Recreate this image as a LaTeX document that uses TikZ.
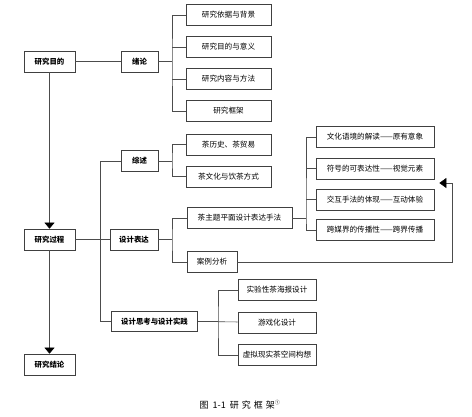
\documentclass[tikz,border=0pt]{standalone}
\usepackage{fontspec}
\setmainfont{Noto Sans CJK SC}
\usetikzlibrary{arrows.meta}

\begin{document}
\begin{tikzpicture}[x=1pt,y=-1pt]
    \tikzset{every node/.style={inner sep=0pt, font=\fontsize{7.6}{9}\selectfont},
        mainbox/.style={draw=black!75, line width=0.7pt, minimum height=21pt, font=\fontsize{7.4}{9}\selectfont\bfseries},
        leafbox/.style={draw=black!75, line width=0.7pt, minimum height=21pt},
        link/.style={draw=black!70, line width=0.6pt},
        down/.style={link, -{Triangle[width=10pt,length=6pt,color=black]}}}
    \useasboundingbox (0,0) rectangle (472,416);
    \node [mainbox, minimum width=51pt] (aim) at (49.5,61.5) {研究目的};
    \node [mainbox, minimum width=51pt] (proc) at (49.5,239.5) {研究过程};
    \node [mainbox, minimum width=51pt] (concl) at (49.5,364.5) {研究结论};
    \node [mainbox, minimum width=37pt] (xulun) at (139.5,61.5) {绪论};
    \node [mainbox, minimum width=37pt] (zongshu) at (139.5,161) {综述};
    \node [mainbox, minimum width=48pt] (biaoda) at (134,239.5) {设计表达};
    \node [mainbox, minimum width=86pt, minimum height=20pt] (shijian) at (154.5,321.7) {设计思考与设计实践};
    \node [leafbox, minimum width=85pt] (bj) at (228.5,15) {研究依据与背景};
    \node [leafbox, minimum width=85pt] (yy) at (228.5,47) {研究目的与意义};
    \node [leafbox, minimum width=85pt] (ff) at (228.5,79) {研究内容与方法};
    \node [leafbox, minimum width=85pt] (kj) at (228.5,111) {研究框架};
    \node [leafbox, minimum width=85pt] (ls) at (228.5,144.5) {茶历史、茶贸易};
    \node [leafbox, minimum width=85pt] (wh) at (228.5,176.5) {茶文化与饮茶方式};
    \node [leafbox, minimum width=105pt] (sf) at (239.5,218) {茶主题平面设计表达手法};
    \node [leafbox, minimum width=50pt] (al) at (212,262) {案例分析};
    \node [leafbox, minimum width=118pt] (yx) at (375,137) {文化语境的解读——原有意象};
    \node [leafbox, minimum width=118pt] (sj) at (375,168.7) {符号的可表达性——视觉元素};
    \node [leafbox, minimum width=118pt] (hd) at (375,199.5) {交互手法的体现——互动体验};
    \node [leafbox, minimum width=118pt] (kc) at (375,230) {跨媒界的传播性——跨界传播};
    \node [leafbox, minimum width=78pt] (hb) at (277,290) {实验性茶海报设计};
    \node [leafbox, minimum width=78pt] (yxh) at (277,322.5) {游戏化设计};
    \node [leafbox, minimum width=78pt] (xn) at (277,355) {虚拟现实茶空间构想};
    \coordinate (j1) at (172,61.5);
    \coordinate (j2) at (172,161);
    \coordinate (j3) at (172,239.5);
    \coordinate (j4) at (306,218);
    \coordinate (j5) at (218,321.7);
    \coordinate (sp) at (100,161);
    \coordinate (back) at (452.5,183);
    \draw [down] (aim) -- (proc);
    \draw [down] (proc) -- (concl);
    \draw [link] (aim) -- (xulun);
    \draw [link] (proc) -- (biaoda);
    \draw [link] (zongshu) -- (sp) |- (shijian);
    \draw [link] (xulun) -- (j1);
    \draw [link] (bj.west) -| (j1) |- (kj.west);
    \draw [link] (yy.west) -- (yy.west -| j1);
    \draw [link] (ff.west) -- (ff.west -| j1);
    \draw [link] (zongshu) -- (j2);
    \draw [link] (ls.west) -| (j2) |- (wh.west);
    \draw [link] (biaoda) -- (j3);
    \draw [link] (sf.west) -| (j3) |- (al.west);
    \draw [link] (sf) -- (j4);
    \draw [link] (yx.west) -| (j4) |- (kc.west);
    \draw [link] (sj.west) -- (sj.west -| j4);
    \draw [link] (hd.west) -- (hd.west -| j4);
    \draw [link] (shijian) -- (j5);
    \draw [link] (hb.west) -| (j5) |- (xn.west);
    \draw [link] (yxh) -- (j5);
    \draw [link, -{Triangle[width=10pt,length=7pt,color=black]}] (al) -| (back) -- ([xshift=5pt]sj.east |- back);
    \node (cap) at (240,405) {\fontsize{9}{10}\selectfont 图\hspace{4pt}1-1\hspace{4pt}研\hspace{3pt}究\hspace{3pt}框\hspace{3pt}架\textsuperscript{\fontsize{5}{5}\selectfont ①}};
\end{tikzpicture}
\end{document}
